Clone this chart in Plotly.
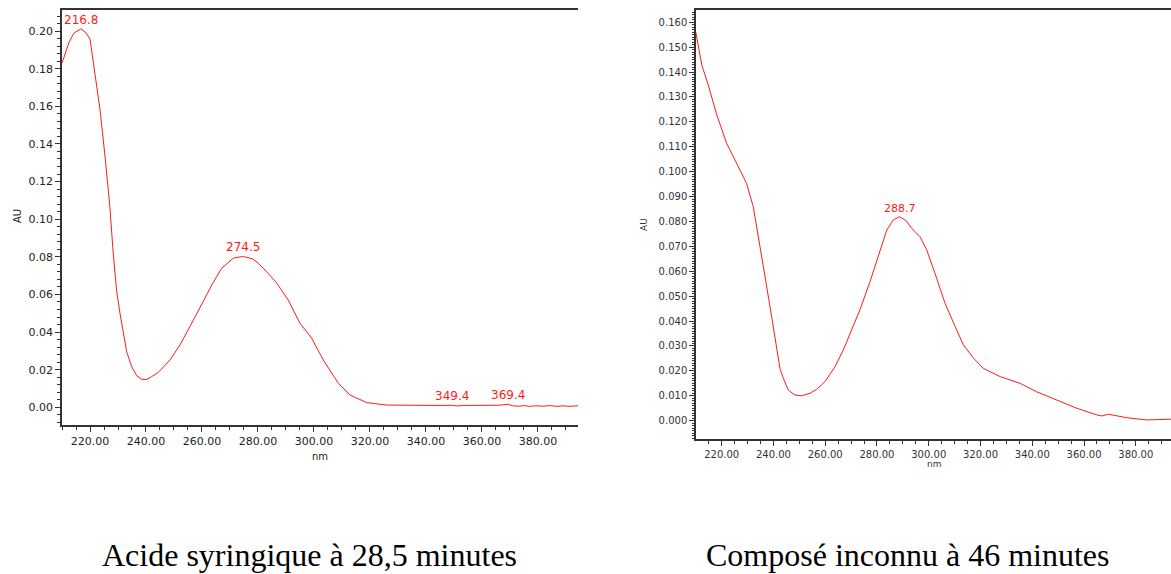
import plotly.graph_objects as go

# ---- Data: Acide syringique (28,5 min) ----
wl_syr = [210.0, 212.5, 214.3, 216.8, 218.6, 220.0, 221.8, 223.6, 225.4, 227.1, 228.2,
          229.5, 230.7, 231.9, 233.1, 234.9, 236.7, 238.5, 240.3, 242.0, 244.4, 248.6,
          252.1, 255.7, 259.3, 263.5, 267.0, 271.2, 274.5, 278.0, 280.1, 283.1, 286.7,
          290.8, 295.0, 299.2, 303.3, 308.7, 312.9, 318.8, 326.0, 335.0, 345.0, 349.4,
          351.0, 353.0, 360.0, 366.0, 369.4, 371.0, 373.0, 375.0, 377.0, 379.0, 382.0,
          384.0, 387.0, 389.0, 391.0, 394.3]
au_syr = [0.183, 0.194, 0.199, 0.2012, 0.199, 0.1957, 0.177, 0.158, 0.133, 0.1066, 0.0837,
          0.062, 0.050, 0.0395, 0.0296, 0.0216, 0.0167, 0.0149, 0.0148, 0.0163, 0.0186, 0.0252,
          0.0331, 0.0429, 0.0535, 0.065, 0.0739, 0.0793, 0.0802, 0.0790, 0.0766, 0.0721, 0.066,
          0.057, 0.0447, 0.0367, 0.0252, 0.0128, 0.0065, 0.0025, 0.0012, 0.0010, 0.0010, 0.0011,
          0.0007, 0.0010, 0.0010, 0.0011, 0.0016, 0.0008, 0.0006, 0.0009, 0.0005, 0.0008, 0.0006,
          0.0009, 0.0005, 0.0008, 0.0005, 0.0008]
peaks_syr = [216.8, 274.5, 349.4, 369.4]
peak_au_syr = [0.2012, 0.0802, 0.0011, 0.0016]

# ---- Data: Composé inconnu (46 min) ----
wl_unk = [210.0, 212.3, 214.8, 218.1, 221.9, 225.8, 229.6, 232.2, 234.8, 236.1, 239.3,
          241.2, 242.5, 243.8, 245.7, 248.3, 250.9, 254.1, 256.7, 259.9, 263.8, 267.0,
          270.2, 273.4, 277.3, 281.2, 283.8, 286.3, 288.7, 291.0, 294.0, 296.6, 299.2,
          302.4, 306.3, 310.2, 313.4, 317.3, 321.1, 327.6, 335.3, 341.7, 349.5, 357.2,
          365.0, 366.9, 369.4, 376.5, 384.3, 393.6]
au_unk = [0.156, 0.1428, 0.1348, 0.1228, 0.1114, 0.1034, 0.0953, 0.0859, 0.0686, 0.0618, 0.0418,
          0.0284, 0.021, 0.017, 0.0123, 0.0103, 0.0100, 0.011, 0.0126, 0.0157, 0.0217, 0.0284,
          0.0364, 0.0445, 0.0558, 0.0685, 0.0766, 0.0806, 0.0819, 0.0805, 0.0766, 0.0739, 0.0686,
          0.0592, 0.0471, 0.0378, 0.0304, 0.0251, 0.021, 0.0177, 0.015, 0.0116, 0.0083, 0.005,
          0.0023, 0.0019, 0.0026, 0.0012, 0.0003, 0.0006]
peaks_unk = [288.7]
peak_au_unk = [0.0819]

captions = ["Acide syringique à 28,5 minutes", "Composé inconnu à 46 minutes"]

RED = "#ff1a1a"
W, H = 1171, 574

fig = go.Figure()
fig.add_trace(go.Scatter(x=wl_syr, y=au_syr, mode="lines", line=dict(color=RED, width=1),
                         xaxis="x", yaxis="y", showlegend=False, hoverinfo="x+y"))
fig.add_trace(go.Scatter(x=wl_unk, y=au_unk, mode="lines", line=dict(color=RED, width=1),
                         xaxis="x2", yaxis="y2", showlegend=False, hoverinfo="x+y"))

def px_x(p):
    return p / W

def px_y(p):
    return (H - p) / H

axis_common = dict(showgrid=False, zeroline=False, showline=True, linecolor="#333333",
                   linewidth=1.5, ticks="outside", tickcolor="#333333", tickwidth=1)

fig.update_layout(
    width=W, height=H, margin=dict(l=0, r=0, t=0, b=0),
    paper_bgcolor="white", plot_bgcolor="white",
    xaxis=dict(domain=[px_x(62), px_x(578)], range=[210, 394.3], anchor="y",
               dtick=20, tick0=200, tickformat=".2f", ticklen=5, mirror=True,
               tickfont=dict(family="DejaVu Sans", size=11, color="#222"),
               minor=dict(dtick=5, ticklen=3, ticks="outside", tickcolor="#333333"),
               **axis_common),
    yaxis=dict(domain=[px_y(425), px_y(10)], range=[-0.0094, 0.2112], anchor="x",
               dtick=0.02, tick0=0, tickformat=".2f", ticklen=5,
               tickfont=dict(family="DejaVu Sans", size=11, color="#222"),
               minor=dict(dtick=0.004, ticklen=3, ticks="outside", tickcolor="#333333"),
               **axis_common),
    xaxis2=dict(domain=[px_x(696), 1.0], range=[210.07, 393.6], anchor="y2",
                dtick=20, tick0=200, tickformat=".2f", ticklen=5, mirror=True,
                tickfont=dict(family="DejaVu Sans", size=10, color="#333"),
                minor=dict(dtick=5, ticklen=3, ticks="outside", tickcolor="#333333"),
                **axis_common),
    yaxis2=dict(domain=[px_y(439), px_y(10)], range=[-0.00735, 0.1649], anchor="x2",
                dtick=0.01, tick0=0, tickformat=".3f", ticklen=5,
                tickfont=dict(family="DejaVu Sans", size=10, color="#333"),
                minor=dict(dtick=0.001, ticklen=2, ticks="outside", tickcolor="#333333"),
                **axis_common),
)

ann = []
for xv, yv in zip(peaks_syr, peak_au_syr):
    ann.append(dict(x=xv, y=yv, xref="x", yref="y", text=f"{xv:.1f}", showarrow=False,
                    xanchor="center", yanchor="bottom", yshift=0,
                    font=dict(family="DejaVu Sans", size=12, color=RED)))
for xv, yv in zip(peaks_unk, peak_au_unk):
    ann.append(dict(x=xv, y=yv, xref="x2", yref="y2", text=f"{xv:.1f}", showarrow=False,
                    xanchor="center", yanchor="bottom", yshift=0,
                    font=dict(family="DejaVu Sans", size=11, color=RED)))

# axis titles
ann.append(dict(x=px_x(17), y=px_y(216), xref="paper", yref="paper", text="AU", textangle=-90,
                showarrow=False, xanchor="center", yanchor="middle",
                font=dict(family="DejaVu Sans", size=10, color="#222")))
ann.append(dict(x=px_x(320), y=px_y(456), xref="paper", yref="paper", text="nm",
                showarrow=False, xanchor="center", yanchor="middle",
                font=dict(family="DejaVu Sans", size=10, color="#222")))
ann.append(dict(x=px_x(644), y=px_y(224), xref="paper", yref="paper", text="AU", textangle=-90,
                showarrow=False, xanchor="center", yanchor="middle",
                font=dict(family="DejaVu Sans", size=9, color="#333")))
ann.append(dict(x=px_x(934), y=px_y(464), xref="paper", yref="paper", text="nm",
                showarrow=False, xanchor="center", yanchor="middle",
                font=dict(family="DejaVu Sans", size=9, color="#333")))

# captions
ann.append(dict(x=px_x(309), y=px_y(555), xref="paper", yref="paper", text=captions[0],
                showarrow=False, xanchor="center", yanchor="middle",
                font=dict(family="Liberation Serif", size=32, color="black")))
ann.append(dict(x=px_x(908), y=px_y(555), xref="paper", yref="paper", text=captions[1],
                showarrow=False, xanchor="center", yanchor="middle",
                font=dict(family="Liberation Serif", size=32, color="black")))

fig.update_layout(annotations=ann)
fig.write_html(
    "out.html",
    config={"displayModeBar": False},
    post_script="document.body.style.margin='0';document.body.style.overflow='hidden';",
)
